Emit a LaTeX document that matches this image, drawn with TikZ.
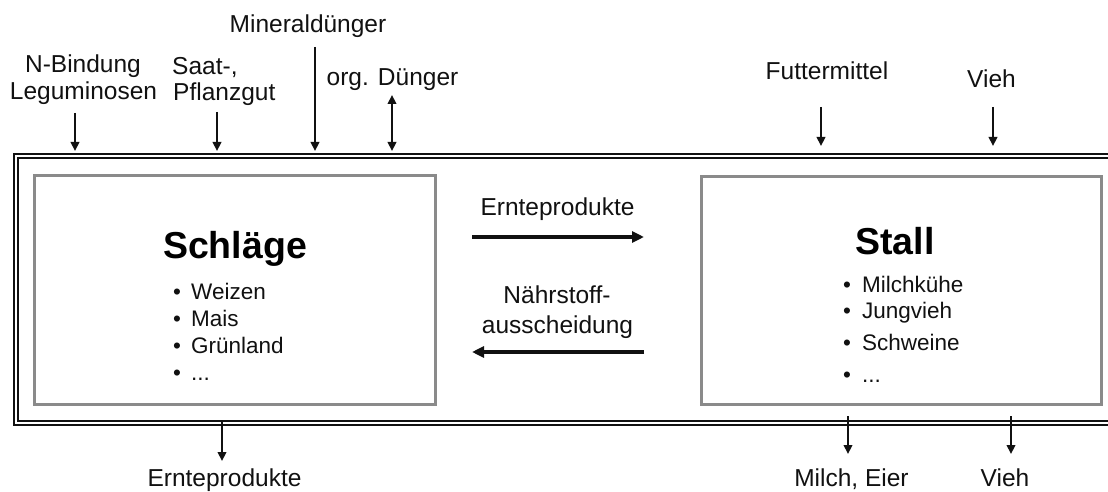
\documentclass[tikz,border=0pt]{standalone}
\usepackage{fontspec}
\setmainfont{Liberation Sans}
\usetikzlibrary{arrows.meta}
\definecolor{boxgray}{HTML}{8A8A8A}
\definecolor{ink}{HTML}{111111}
\begin{document}
\begin{tikzpicture}[x=1pt,y=-1pt,
  lbl/.style={font=\fontsize{24.5}{29}\selectfont, text=ink, inner sep=0pt, anchor=base},
  itm/.style={font=\fontsize{22.5}{27}\selectfont, text=ink, inner sep=0pt, anchor=base west},
  bul/.style={font=\fontsize{22.5}{27}\selectfont, text=ink, inner sep=0pt, anchor=base},
  ttl/.style={font=\fontsize{37.5}{44}\selectfont\bfseries, inner sep=0pt, anchor=base},
  box/.style={draw=boxgray, line width=3pt},
  frame/.style={draw=ink, line width=1.4pt, double=white, double distance=2.9pt},
  flow/.style={draw=ink, line width=2.2pt, -{Triangle[length=9pt,width=8.5pt]}},
  flow2/.style={draw=ink, line width=2.2pt, {Triangle[length=9pt,width=8.5pt]}-{Triangle[length=9pt,width=8.5pt]}},
  bigflow/.style={draw=ink, line width=3.8pt, -{Triangle[length=12pt,width=11pt]}},
]
\useasboundingbox (0,0) rectangle (1108,492);
\clip (0,0) rectangle (1108,492);

% outer double frame (extends beyond right edge)
\draw[frame] (16,156) rectangle (1125,423);

% inner boxes
\draw[box] (34.5,175.5) rectangle (435,404.5);
\draw[box] (701,176.5) rectangle (1101.5,404);

% titles
\node[ttl] (schl) at (235,258) {Schläge};
\node[ttl] (stall) at (895,254) {Stall};

% Schläge list
\node[bul] (sba) at (177,299) {\textbullet}; \node[itm] (sia) at (191,299) {Weizen};
\node[bul] (sbb) at (177,326) {\textbullet}; \node[itm] (sib) at (191,326) {Mais};
\node[bul] (sbc) at (177,353) {\textbullet}; \node[itm] (sic) at (191,353) {Grünland};
\node[bul] (sbd) at (177,380) {\textbullet}; \node[itm] (sid) at (191,380) {.{}.{}.};
% Stall list
\node[bul] (tba) at (847,292) {\textbullet}; \node[itm] (tia) at (862,292) {Milchkühe};
\node[bul] (tbb) at (847,318) {\textbullet}; \node[itm] (tib) at (862,318) {Jungvieh};
\node[bul] (tbc) at (847,350) {\textbullet}; \node[itm] (tic) at (862,350) {Schweine};
\node[bul] (tbd) at (847,382) {\textbullet}; \node[itm] (tid) at (862,382) {.{}.{}.};

% top labels
\node[lbl] (nb1) at (83,73) {N-Bindung};
\node[lbl] (nb2) at (83.5,100) {Leguminosen};
\node[lbl, anchor=base west] (sp1) at (172,75) {Saat-,};
\node[lbl, anchor=base west] (sp2) at (173,101) {Pflanzgut};
\node[lbl] (md) at (308,33) {Mineraldünger};
\node[lbl] (od) at (392.5,86) {org. Dünger};
\node[lbl] (fm) at (827,80) {Futtermittel};
\node[lbl] (vt) at (991.5,88) {Vieh};

% bottom labels
\node[lbl] (ep) at (224.5,486) {Ernteprodukte};
\node[lbl] (me) at (851.5,486.5) {Milch, Eier};
\node[lbl] (vb) at (1005,486.5) {Vieh};

% middle labels
\node[lbl] (em) at (557.5,215) {Ernteprodukte};
\node[lbl] (na1) at (557,303) {Nährstoff-};
\node[lbl] (na2) at (557.5,333) {ausscheidung};

% arrow end points
\coordinate (nbS) at (75,113);   \coordinate (nbE) at (75,151);
\coordinate (spS) at (217,112);  \coordinate (spE) at (217,151);
\coordinate (mdS) at (315,47);   \coordinate (mdE) at (315,151);
\coordinate (odS) at (392,95);   \coordinate (odE) at (392,151);
\coordinate (fmS) at (821,107);  \coordinate (fmE) at (821,146);
\coordinate (vtS) at (993,107);  \coordinate (vtE) at (993,146);
\coordinate (epS) at (222,422);  \coordinate (epE) at (222,461);
\coordinate (meS) at (848,416);  \coordinate (meE) at (848,454);
\coordinate (vbS) at (1011,416); \coordinate (vbE) at (1011,454);
\coordinate (emS) at (472,237);  \coordinate (emE) at (644,237);
\coordinate (naS) at (644,352);  \coordinate (naE) at (472,352);

% arrows
\draw[flow] (nbS) -- (nbE);
\draw[flow] (spS) -- (spE);
\draw[flow] (mdS) -- (mdE);
\draw[flow2] (odS) -- (odE);
\draw[flow] (fmS) -- (fmE);
\draw[flow] (vtS) -- (vtE);
\draw[flow] (epS) -- (epE);
\draw[flow] (meS) -- (meE);
\draw[flow] (vbS) -- (vbE);
\draw[bigflow] (emS) -- (emE);
\draw[bigflow] (naS) -- (naE);
\end{tikzpicture}
\end{document}
